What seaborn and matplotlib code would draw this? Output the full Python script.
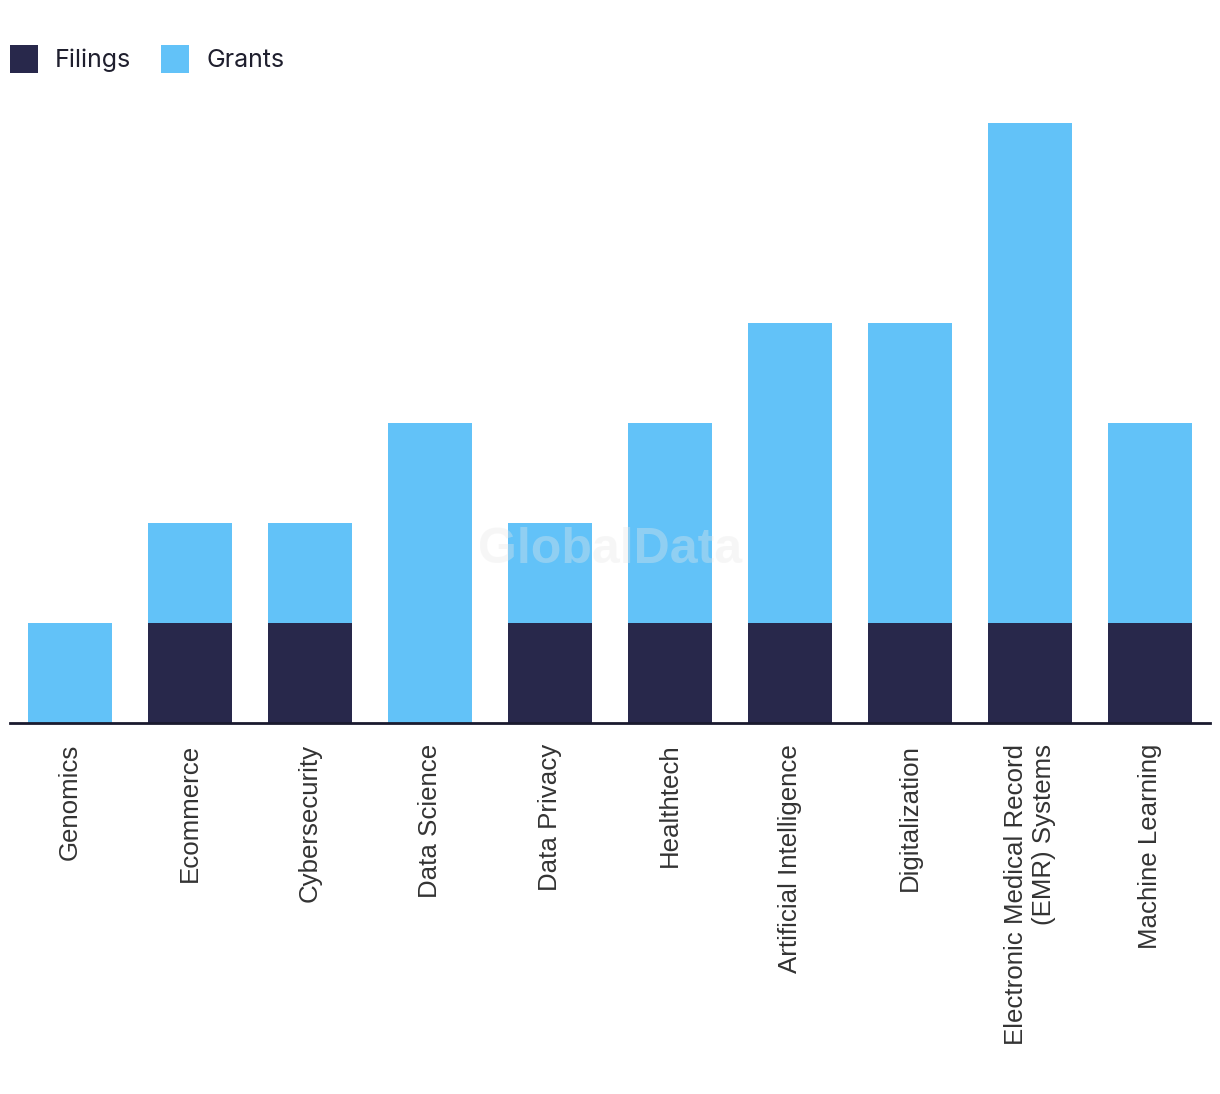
import matplotlib
matplotlib.use("Agg")
import matplotlib.pyplot as plt
import matplotlib.patches as mpatches
import seaborn as sns
import pandas as pd

categories = ["Genomics", "Ecommerce", "Cybersecurity", "Data Science", "Data Privacy",
              "Healthtech", "Artificial Intelligence", "Digitalization",
              "Electronic Medical Record\n(EMR) Systems", "Machine Learning"]
filings = [0, 1, 1, 0, 1, 1, 1, 1, 1, 1]
grants = [1, 1, 1, 3, 1, 2, 3, 3, 5, 2]

navy = "#28284B"
blue = "#62C2F8"

df = pd.DataFrame({"category": categories, "Filings": filings, "Grants": grants})

sns.set_style("white")
fig = plt.figure(figsize=(12.2, 10.94), dpi=100)
ax = fig.add_axes([10/1220, (1094-723)/1094, 1200/1220, 600/1094])

sns.barplot(data=df, x="category", y="Filings", color=navy, width=0.7,
            saturation=1, linewidth=0, ax=ax, zorder=2)
sns.barplot(data=df, x="category", y="Grants", color=blue, width=0.7,
            saturation=1, linewidth=0, bottom=df["Filings"], ax=ax, zorder=2)

ax.set_xlim(-0.5, len(categories) - 0.5)
ax.set_ylim(0, 6)
ax.set_xlabel("")
ax.set_ylabel("")
ax.set_yticks([])
for s in ["top", "right", "left"]:
    ax.spines[s].set_visible(False)
ax.spines["bottom"].set_color("#1a1a2e")
ax.spines["bottom"].set_linewidth(2)
ax.spines["bottom"].set_zorder(3)

ax.set_xticks(range(len(categories)))
ax.set_xticklabels(categories, rotation=90, fontsize=18.6, color="#333333",
                   family="Liberation Sans", va="top", ha="center",
                   multialignment="right")
ax.tick_params(axis="x", length=0, pad=15)

ax.text(0.5, 0.288, "GlobalData", transform=ax.transAxes, ha="center", va="center",
        fontsize=36, fontweight="bold", family="Liberation Sans",
        color="#e8e8e8", alpha=0.35, zorder=5)

handles = [mpatches.Patch(color=navy, label="Filings", linewidth=0),
           mpatches.Patch(color=blue, label="Grants", linewidth=0)]
fig.legend(handles=handles, loc="upper left", bbox_to_anchor=(10/1220, 1 - 45/1094),
           ncol=2, frameon=False, prop={"family": "Inter", "size": 18},
           handlelength=1.12, handleheight=1.35, handletextpad=0.68,
           columnspacing=1.2, borderpad=0, borderaxespad=0, labelcolor="#1f1f2e")

fig.savefig("out.png", dpi=100, facecolor="white")
